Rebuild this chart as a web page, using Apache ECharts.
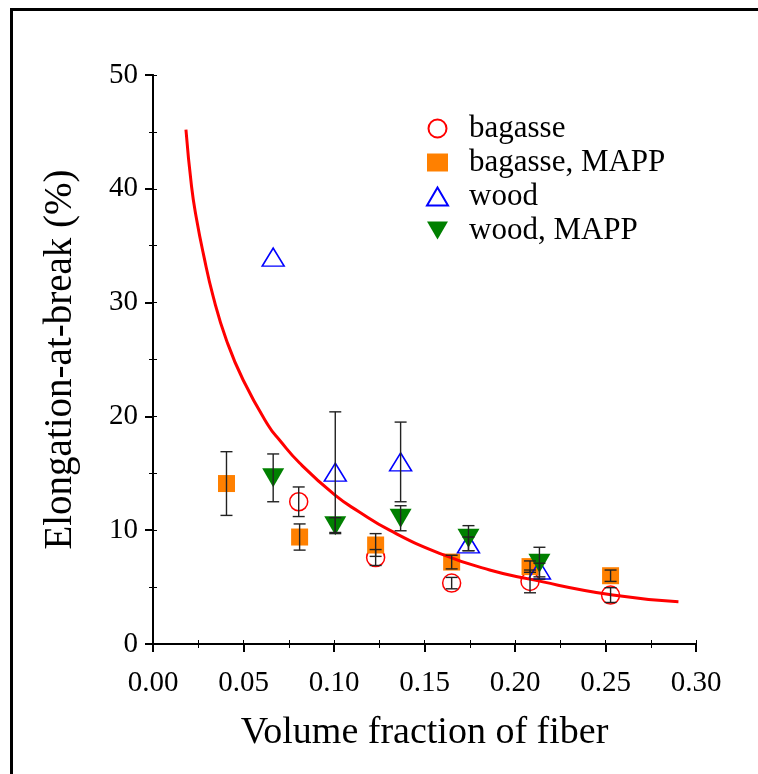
<!DOCTYPE html>
<html>
<head>
<meta charset="utf-8">
<script src="https://cdn.jsdelivr.net/npm/echarts@6/dist/echarts.min.js"></script>
<style>
  html, body { margin: 0; padding: 0; background: #fff; }
  #chart { width: 758px; height: 774px; }
</style>
</head>
<body>
<div id="chart"></div>
<script>
// values
var xTicks = [0, 0.05, 0.10, 0.15, 0.20, 0.25, 0.30];
var yTicks = [0, 10, 20, 30, 40, 50];

var bagasseX   = [0.0805, 0.123, 0.165, 0.2083, 0.2528];
var bagasseY   = [12.5, 7.6, 5.35, 5.5, 4.3];
var bagasseErr = [1.3, 0.7, 0.5, 1.0, 0.65];

var bagMappX   = [0.0406, 0.081, 0.123, 0.165, 0.2083, 0.2528];
var bagMappY   = [14.1, 9.4, 8.7, 7.2, 6.8, 6.0];
var bagMappErr = [2.8, 1.15, 1.0, 0.6, 0.5, 0.5];

var woodX   = [0.0664, 0.1007, 0.1368, 0.1743, 0.2135];
var woodY   = [34.0, 15.1, 16.0, 8.8, 6.5];
var woodErr = [0, 5.3, 3.5, 0.6, 0.6];

var woodMappX   = [0.0664, 0.1007, 0.1368, 0.1743, 0.2135];
var woodMappY   = [14.6, 10.4, 11.05, 9.3, 7.1];
var woodMappErr = [2.1, 0.7, 1.1, 1.1, 1.4];

// red fitted curve
var curveX = [0.0182, 0.0213, 0.0241, 0.0278, 0.0333, 0.0406, 0.0498, 0.0637, 0.070, 0.081,
              0.1004, 0.114, 0.1307, 0.1583, 0.186, 0.208, 0.254, 0.2903];
var curveY = [45.2, 40.2, 37.3, 34.3, 30.5, 26.7, 23.2, 19.2, 17.9, 15.9,
              13.1, 11.6, 10.0, 7.97, 6.5, 5.7, 4.3, 3.72];

var FONT = '"Liberation Serif", "Times New Roman", serif';

function pairs(xs, ys) {
  var out = [];
  for (var i = 0; i < xs.length; i++) out.push([xs[i], ys[i]]);
  return out;
}
function errRows(xs, ys, es) {
  var out = [];
  for (var i = 0; i < xs.length; i++) {
    if (!es[i]) continue;
    out.push([xs[i], ys[i] - es[i], ys[i] + es[i]]);
  }
  return out;
}

// error bars: vertical line + two caps
function errorBar(params, api) {
  var x = api.value(0);
  var lo = api.coord([x, api.value(1)]);
  var hi = api.coord([x, api.value(2)]);
  var w = 6;
  var st = { stroke: '#222', lineWidth: 1.4 };
  return {
    type: 'group',
    children: [
      { type: 'line', shape: { x1: lo[0], y1: lo[1], x2: hi[0], y2: hi[1] }, style: st },
      { type: 'line', shape: { x1: hi[0] - w, y1: hi[1], x2: hi[0] + w, y2: hi[1] }, style: st },
      { type: 'line', shape: { x1: lo[0] - w, y1: lo[1], x2: lo[0] + w, y2: lo[1] }, style: st }
    ]
  };
}
function errSeries(rows) {
  return {
    type: 'custom', renderItem: errorBar, data: rows, z: 20,
    encode: { x: 0, y: [1, 2] }, silent: true
  };
}

var downTri = 'path://M0,0L10,0L5,8.6Z';

var chart = echarts.init(document.getElementById('chart'), null, { renderer: 'canvas' });

var option = {
  backgroundColor: '#fff',
  animation: false,
  textStyle: { fontFamily: FONT },
  grid: { left: 153, right: 62, top: 75, bottom: 130 },
  legend: {
    orient: 'vertical',
    left: 421, top: 108,
    itemWidth: 21, itemHeight: 18, itemGap: 3,
    textStyle: { fontFamily: FONT, fontSize: 31, color: '#000', padding: [0, 0, 0, 16] },
    data: ['bagasse', 'bagasse, MAPP', 'wood', 'wood, MAPP']
  },
  xAxis: [
    {
      type: 'value', min: xTicks[0], max: xTicks[xTicks.length - 1], interval: 0.05,
      position: 'bottom',
      name: 'Volume fraction of fiber', nameLocation: 'middle', nameGap: 70,
      nameTextStyle: { fontFamily: FONT, fontSize: 38, color: '#000' },
      axisLine: { lineStyle: { color: '#000', width: 2 } },
      axisTick: { length: 8, lineStyle: { color: '#000', width: 2 } },
      axisLabel: { fontFamily: FONT, fontSize: 29, color: '#000', margin: 25,
                   formatter: function(v) { return v.toFixed(2); } },
      splitLine: { show: false }
    },
    {
      type: 'value', min: 0, max: 0.3, interval: 0.025, position: 'bottom',
      axisLine: { show: false }, axisLabel: { show: false }, splitLine: { show: false },
      axisTick: { inside: true, length: 4, lineStyle: { color: '#000', width: 1 } }
    },
    {
      type: 'value', min: 0, max: 0.3, interval: 0.025, position: 'top',
      axisLine: { lineStyle: { color: '#000', width: 2 } }, axisLabel: { show: false },
      splitLine: { show: false },
      axisTick: { inside: true, length: 4, lineStyle: { color: '#000', width: 1 } }
    }
  ],
  yAxis: [
    {
      type: 'value', min: yTicks[0], max: yTicks[yTicks.length - 1], interval: 10,
      position: 'left',
      name: 'Elongation-at-break (%)', nameLocation: 'middle', nameGap: 73,
      nameTextStyle: { fontFamily: FONT, fontSize: 39, color: '#000' },
      axisLine: { lineStyle: { color: '#000', width: 2 } },
      axisTick: { length: 8, lineStyle: { color: '#000', width: 2 } },
      axisLabel: { fontFamily: FONT, fontSize: 29, color: '#000', margin: 15 },
      splitLine: { show: false }
    },
    {
      type: 'value', min: 0, max: 50, interval: 5, position: 'left',
      axisLine: { show: false }, axisLabel: { show: false }, splitLine: { show: false },
      axisTick: { inside: true, length: 4, lineStyle: { color: '#000', width: 1 } }
    },
    {
      type: 'value', min: 0, max: 50, interval: 5, position: 'right',
      axisLine: { lineStyle: { color: '#000', width: 2 } }, axisLabel: { show: false },
      splitLine: { show: false },
      axisTick: { inside: true, length: 4, lineStyle: { color: '#000', width: 1 } }
    }
  ],
  series: [
    {
      name: 'bagasse', type: 'scatter', symbol: 'circle', symbolSize: 18, z: 5,
      itemStyle: { color: 'rgba(0,0,0,0)', borderColor: '#ff0000', borderWidth: 1.5, opacity: 1 },
      data: pairs(bagasseX, bagasseY)
    },
    {
      name: 'bagasse, MAPP', type: 'scatter', symbol: 'rect', symbolSize: 17, z: 5,
      itemStyle: { color: '#ff8000', opacity: 1 },
      data: pairs(bagMappX, bagMappY)
    },
    {
      name: 'wood', type: 'scatter', symbol: 'triangle', symbolSize: [22, 18], z: 6,
      itemStyle: { color: 'rgba(0,0,0,0)', borderColor: '#0000ff', borderWidth: 1.5, opacity: 1 },
      data: pairs(woodX, woodY)
    },
    {
      name: 'wood, MAPP', type: 'scatter', symbol: downTri, symbolSize: [22, 19], z: 7,
      itemStyle: { color: '#008000', opacity: 1 },
      data: pairs(woodMappX, woodMappY)
    },
    {
      name: 'fit', type: 'line', smooth: true, showSymbol: false, z: 10,
      lineStyle: { color: '#ff0000', width: 3 },
      data: pairs(curveX, curveY)
    },
    errSeries(errRows(bagasseX, bagasseY, bagasseErr)),
    errSeries(errRows(bagMappX, bagMappY, bagMappErr)),
    errSeries(errRows(woodX, woodY, woodErr)),
    errSeries(errRows(woodMappX, woodMappY, woodMappErr))
  ],
  graphic: [
    {
      type: 'rect', silent: true, z: 100,
      shape: { x: 11.5, y: 9.5, width: 770, height: 790 },
      style: { fill: 'none', stroke: '#000', lineWidth: 3 }
    }
  ]
};

chart.setOption(option);
</script>
</body>
</html>
